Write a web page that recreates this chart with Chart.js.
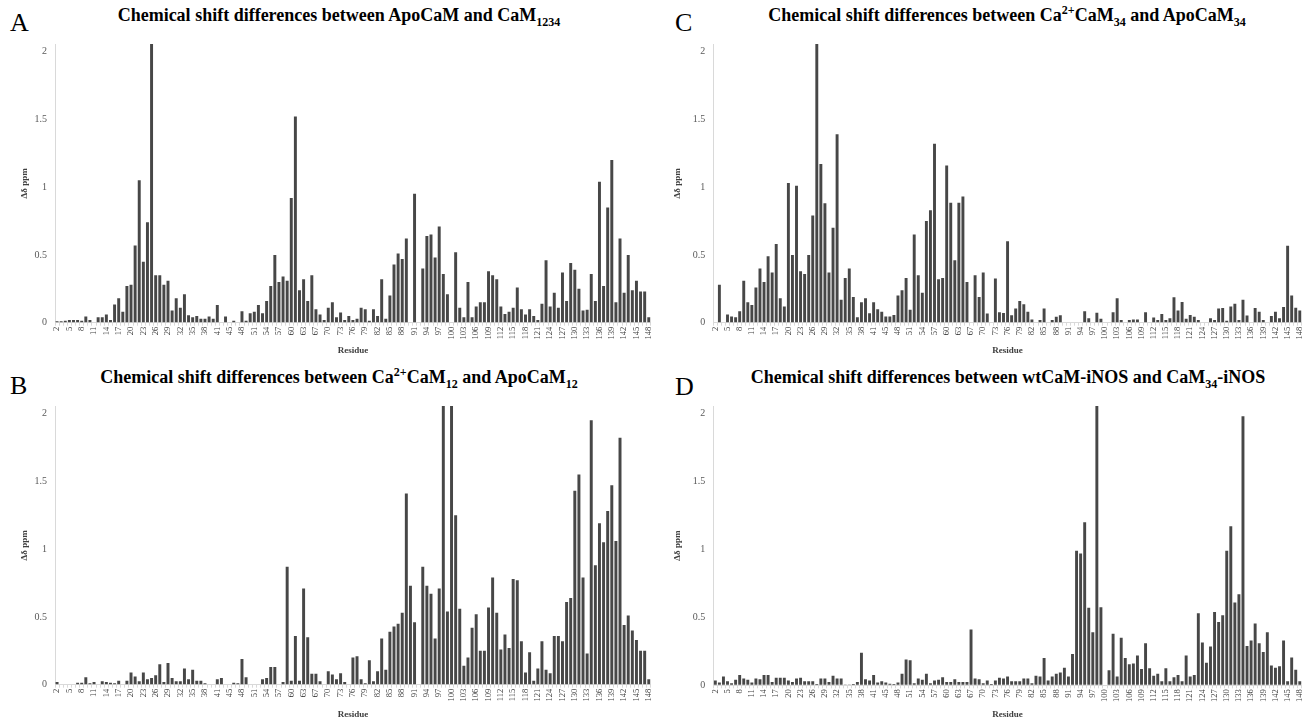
<!DOCTYPE html>
<html>
<head>
<meta charset="utf-8">
<script src="https://cdn.jsdelivr.net/npm/chart.js@4.4.1/dist/chart.umd.min.js"></script>
<style>
  body { margin: 0; background: #fff; width: 1311px; height: 721px; overflow: hidden; position: relative; }
  canvas { position: absolute; }
  .title { position: absolute; width: 640px; text-align: center; font-family: 'Liberation Serif', 'Times New Roman', serif;
           font-weight: bold; font-size: 18px; line-height: 18px; color: #000; white-space: nowrap; }
  .title sub, .title sup { font-size: 0.67em; line-height: 0; }
  .letter { position: absolute; font-family: 'Liberation Serif', 'Times New Roman', serif; font-size: 26px; line-height: 26px; color: #000; }
</style>
</head>
<body>
<div class="letter" style="left:10px;top:10px">A</div>
<div class="letter" style="left:10px;top:373px">B</div>
<div class="letter" style="left:675px;top:10px">C</div>
<div class="letter" style="left:675px;top:374px">D</div>

<div class="title" style="left:19px;top:6px">Chemical shift differences between ApoCaM and CaM<sub>1234</sub></div>
<div class="title" style="left:19px;top:368px">Chemical shift differences between Ca<sup>2+</sup>CaM<sub>12</sub> and ApoCaM<sub>12</sub></div>
<div class="title" style="left:687px;top:6px">Chemical shift differences between Ca<sup>2+</sup>CaM<sub>34</sub> and ApoCaM<sub>34</sub></div>
<div class="title" style="left:688px;top:368px">Chemical shift differences between wtCaM-iNOS and CaM<sub>34</sub>-iNOS</div>

<canvas id="chartA"></canvas>
<canvas id="chartB"></canvas>
<canvas id="chartC"></canvas>
<canvas id="chartD"></canvas>

<script>
// residues 2..148, prolines 43 and 66 have no signal
var residues = [];
for (var r = 2; r <= 148; r++) { if (r !== 43 && r !== 66) residues.push(String(r)); }

var yTicks = [0, 0.5, 1, 1.5, 2];

// A: ApoCaM vs CaM1234
var shiftsA = [
  0.01, 0.01, 0.015, 0.02, 0.02, 0.02, 0.015, 0.045, 0.02, 0, 0.04, 0.04, 0.06, 0.02, 0.135, 0.18, 0.08, 0.27, 0.28, 0.57,
  1.05, 0.45, 0.74, 2.06, 0.35, 0.35, 0.28, 0.31, 0.09, 0.18, 0.11, 0.21, 0.055, 0.04, 0.05, 0.03, 0.03, 0.045, 0.03, 0.13,
  0, 0.045, 0, 0.015, 0, 0.085, 0.015, 0.07, 0.08, 0.13, 0.07, 0.16, 0.27, 0.50, 0.30, 0.34, 0.31, 0.92, 1.52, 0.24,
  0.32, 0.16, 0.35, 0.10, 0.06, 0.02, 0.11, 0.15, 0.04, 0.075, 0.02, 0.05, 0.02, 0.03, 0.11, 0.10, 0.015, 0.10, 0.05, 0.32,
  0.03, 0.20, 0.43, 0.51, 0.47, 0.62, 0, 0.95, 0, 0.40, 0.64, 0.65, 0.48, 0.71, 0.36, 0.21, 0, 0.52, 0.11, 0.04,
  0.30, 0.04, 0.12, 0.15, 0.15, 0.38, 0.35, 0.32, 0.12, 0.065, 0.08, 0.11, 0.26, 0.10, 0.06, 0.10, 0.05, 0.02, 0.14, 0.46,
  0.12, 0.22, 0.11, 0.37, 0.16, 0.44, 0.39, 0.25, 0.09, 0.095, 0.36, 0.16, 1.04, 0.27, 0.85, 1.20, 0.15, 0.62, 0.22, 0.50,
  0.24, 0.31, 0.23, 0.23, 0.04
];

// B: Ca2+CaM12 vs ApoCaM12
var shiftsB = [
  0.02, 0, 0, 0, 0, 0.015, 0.015, 0.055, 0.01, 0.02, 0, 0.025, 0.02, 0.015, 0.01, 0.03, 0, 0.03, 0.09, 0.06,
  0.025, 0.09, 0.04, 0.05, 0.07, 0.15, 0.02, 0.16, 0.05, 0.025, 0.025, 0.12, 0.04, 0.11, 0.03, 0.03, 0.01, 0, 0, 0.04,
  0.05, 0, 0, 0.015, 0.01, 0.19, 0.055, 0, 0, 0, 0.04, 0.05, 0.13, 0.13, 0, 0.02, 0.87, 0.03, 0.36, 0.03,
  0.71, 0.35, 0.08, 0.08, 0.025, 0, 0.10, 0.075, 0.04, 0.085, 0.02, 0, 0.20, 0.21, 0.04, 0.01, 0.18, 0.025, 0.10, 0.34,
  0.11, 0.39, 0.43, 0.45, 0.53, 1.41, 0.73, 0.46, 0, 0.87, 0.73, 0.67, 0.34, 0.71, 2.06, 0.54, 2.06, 1.25, 0.56, 0.14,
  0.20, 0.42, 0.52, 0.25, 0.25, 0.57, 0.79, 0.53, 0.26, 0.37, 0.27, 0.78, 0.77, 0.32, 0.09, 0.24, 0.03, 0.12, 0.32, 0.11,
  0.085, 0.36, 0.36, 0.32, 0.61, 0.64, 1.43, 1.55, 0.79, 0.23, 1.95, 0.88, 1.19, 1.05, 1.28, 1.47, 1.06, 1.82, 0.44, 0.51,
  0.40, 0.33, 0.25, 0.25, 0.04
];

// C: Ca2+CaM34 vs ApoCaM34
var shiftsC = [
  0, 0.28, 0, 0.06, 0.045, 0.04, 0.085, 0.31, 0.15, 0.13, 0.26, 0.40, 0.30, 0.49, 0.37, 0.58, 0.18, 0.12, 1.03, 0.50,
  1.01, 0.38, 0.36, 0.50, 0.79, 2.06, 1.17, 0.88, 0.37, 0.70, 1.39, 0.17, 0.33, 0.40, 0.19, 0.04, 0.15, 0.18, 0.07, 0.15,
  0.10, 0.08, 0.045, 0.045, 0.057, 0.20, 0.24, 0.33, 0.095, 0.65, 0.35, 0.22, 0.75, 0.83, 1.32, 0.32, 0.33, 1.16, 0.885, 0.46,
  0.885, 0.93, 0.30, 0, 0.35, 0.19, 0.37, 0.067, 0, 0.325, 0.077, 0.072, 0.60, 0.055, 0.105, 0.16, 0.136, 0.08, 0.024, 0,
  0.02, 0.105, 0, 0.02, 0.043, 0.055, 0, 0, 0, 0, 0, 0.084, 0.033, 0, 0.074, 0.03, 0, 0, 0.077, 0.18,
  0.02, 0, 0.02, 0.024, 0.024, 0, 0.077, 0, 0.038, 0.02, 0.065, 0.02, 0.033, 0.187, 0.09, 0.153, 0.03, 0.057, 0.043, 0.02,
  0, 0, 0.033, 0.02, 0.105, 0.108, 0.014, 0.12, 0.14, 0.02, 0.17, 0.053, 0, 0.108, 0.08, 0.02, 0, 0.05, 0.08, 0.033,
  0.115, 0.567, 0.20, 0.11, 0.09
];

// D: wtCaM-iNOS vs CaM34-iNOS
var shiftsD = [
  0.035, 0.02, 0.065, 0.03, 0.015, 0.04, 0.075, 0.05, 0.04, 0.02, 0.05, 0.045, 0.075, 0.075, 0.025, 0.055, 0.055, 0.055, 0.035, 0.025,
  0.05, 0.055, 0.03, 0.03, 0.03, 0.01, 0.05, 0.05, 0.025, 0.07, 0.05, 0.05, 0.005, 0.005, 0.01, 0.025, 0.24, 0.045, 0.035, 0.075,
  0.02, 0.03, 0.02, 0.012, 0.01, 0.02, 0.085, 0.19, 0.185, 0.015, 0.05, 0.04, 0.085, 0.015, 0.035, 0.04, 0.06, 0.025, 0.025, 0.045,
  0.025, 0.025, 0.025, 0.41, 0.05, 0.045, 0.015, 0.035, 0.01, 0.035, 0.055, 0.05, 0.065, 0.03, 0.03, 0.03, 0.05, 0.05, 0.015, 0.07,
  0.065, 0.20, 0.035, 0.065, 0.085, 0.095, 0.13, 0.065, 0.23, 0.99, 0.97, 1.20, 0.57, 0.39, 2.06, 0.575, 0, 0.11, 0.38, 0.065,
  0.35, 0.20, 0.155, 0.16, 0.22, 0.12, 0.31, 0.125, 0.07, 0.085, 0.03, 0.125, 0.03, 0.06, 0.075, 0.03, 0.22, 0.065, 0.075, 0.53,
  0.315, 0.165, 0.285, 0.54, 0.465, 0.515, 0.99, 1.17, 0.61, 0.67, 1.98, 0.29, 0.33, 0.455, 0.31, 0.245, 0.39, 0.145, 0.13, 0.14,
  0.33, 0.03, 0.205, 0.115, 0.03
];

var serif = "'Liberation Serif', 'Times New Roman', serif";

function makeChart(id, values, box) {
  var canvas = document.getElementById(id);
  canvas.width = box.w;
  canvas.height = box.h;
  canvas.style.left = box.left + 'px';
  canvas.style.top = box.top + 'px';

  return new Chart(canvas, {
    type: 'bar',
    data: {
      labels: residues,
      datasets: [{
        data: values,
        backgroundColor: '#474747',
        borderWidth: 0,
        barPercentage: 0.72,
        categoryPercentage: 1.0
      }]
    },
    options: {
      responsive: false,
      animation: false,
      events: [],
      layout: { padding: { top: box.padTop, right: box.padRight, left: 0, bottom: 0 } },
      plugins: { legend: { display: false }, tooltip: { enabled: false }, title: { display: false } },
      scales: {
        x: {
          type: 'category',
          grid: { display: true, drawOnChartArea: false, drawTicks: true, tickLength: 3, color: '#d9d9d9' },
          border: { display: true, color: '#d9d9d9' },
          ticks: {
            autoSkip: false, minRotation: 90, maxRotation: 90, padding: 1,
            color: '#404040', font: { family: serif, size: 8.5 },
            callback: function (v, i) { return i % 3 === 0 ? residues[i] : ''; }
          },
          title: { display: true, text: 'Residue', color: '#404040',
                   font: { family: serif, size: 9, weight: 'bold' }, padding: { top: 0, bottom: box.resPad } },
          afterFit: function (s) { s.height = box.xH; }
        },
        y: {
          min: 0,
          max: 2.055,
          afterBuildTicks: function (s) { s.ticks = yTicks.map(function (v) { return { value: v }; }); },
          grid: { display: true, drawOnChartArea: false, drawTicks: false },
          border: { display: true, color: '#d9d9d9' },
          ticks: { padding: 8, color: '#595959', font: { family: serif, size: 10 },
                   callback: function (v) { return String(v); } },
          title: { display: true, text: 'Δδ ppm', color: '#404040',
                   font: { family: serif, size: 9, weight: 'bold' }, padding: { top: box.ppmPad, bottom: 0 } },
          afterFit: function (s) { s.width = box.yW; }
        }
      }
    }
  });
}

makeChart('chartA', shiftsA, { left: 0, top: 30, w: 660, h: 330, padTop: 6, padRight: 6.6, yW: 55, xH: 37.3, resPad: 3.6, ppmPad: 19.6 });
makeChart('chartB', shiftsB, { left: 0, top: 392, w: 660, h: 329, padTop: 6.5, padRight: 6.6, yW: 55, xH: 36.3, resPad: 0.6, ppmPad: 19.6 });
makeChart('chartC', shiftsC, { left: 655, top: 30, w: 656, h: 330, padTop: 6, padRight: 0.3, yW: 58.3, xH: 37.3, resPad: 3.6, ppmPad: 17.6 });
makeChart('chartD', shiftsD, { left: 655, top: 392, w: 656, h: 329, padTop: 7.3, padRight: 0.3, yW: 58.3, xH: 35.7, resPad: 0.6, ppmPad: 17.6 });
</script>
</body>
</html>
